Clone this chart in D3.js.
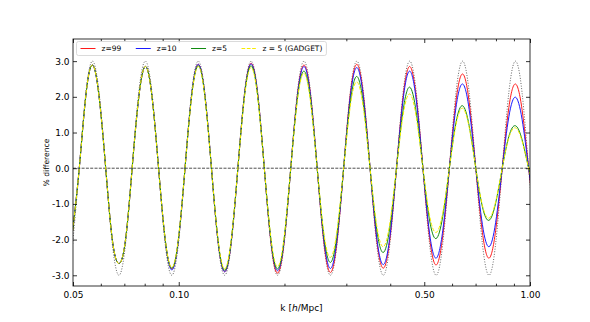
<!DOCTYPE html>
<html><head><meta charset="utf-8">
<script src="https://cdn.jsdelivr.net/npm/d3@7"></script>
<style>
body{margin:0;background:#fff;}
svg{display:block;font-family:"DejaVu Sans",sans-serif;}
</style>
</head><body>
<svg id="c" width="590" height="322"></svg>
<script>
// ---- data ----
const kGrid = [0.04989,
 0.05210,0.05441,0.05682,0.05933,0.06196,0.06470,0.06757,0.07056,
 0.07368,0.07694,0.08035,0.08391,0.08762,0.09150,0.09555,0.09978,
 0.1042,0.10881,0.11364,0.11866,0.12392,0.12940,0.13513,0.14111,
 0.14736,0.15389,0.16070,0.16781,0.17524,0.18300,0.19110,0.19956,
 0.2084,0.21763,0.22726,0.23732,0.24783,0.25880,0.27026,0.28223,
 0.29472,0.30777,0.32140,0.33563,0.35049,0.36600,0.38221,0.39913,
 0.4168,0.43525,0.45452,0.47465,0.49566,0.51761,0.54052,0.56445,
 0.58944,0.61554,0.64279,0.67125,0.70097,0.73201,0.76441,0.79826,
 0.8336,0.87051,0.90905,0.94930,0.99132,1.03521];

const linearTheory = [-2.12,
 0,2.12,3,2.12,0,-2.12,-3,-2.12,
 0,2.12,3,2.12,0,-2.12,-3,-2.12,
 0,2.12,3,2.12,0,-2.12,-3,-2.12,
 0,2.12,3,2.12,0,-2.12,-3,-2.12,
 0,2.12,3,2.12,0,-2.12,-3,-2.12,
 0,2.12,3,2.12,0,-2.12,-3,-2.12,
 0,2.12,3,2.12,0,-2.12,-3,-2.12,
 0,2.12,3,2.12,0,-2.12,-3,-2.12,
 0,2.12,3,2.12,0,-2.12];

const z99 = [-1.75,
 0,2.05,2.89,2.00,0,-2.0,-2.67,-2.0,
 0,1.98,2.85,2.01,0,-2.00,-2.82,-2.01,
 0,2.04,2.91,2.06,0,-2.05,-2.90,-2.06,
 0,2.07,2.94,2.08,0,-2.08,-2.94,-2.07,
 0,2.05,2.89,2.05,0,-2.06,-2.92,-2.06,
 0,2.06,2.91,2.04,0,-2.00,-2.80,-1.99,
 0,2.01,2.85,1.99,0,-1.94,-2.71,-1.90,
 0,1.88,2.64,1.85,0,-1.80,-2.52,-1.75,
 0,1.70,2.36,1.64,0,-1.58];

const z10 = [-1.75,
 0,2.05,2.89,2.00,0,-2.0,-2.67,-2.0,
 0,1.98,2.85,2.01,0,-2.01,-2.85,-2.03,
 0,2.05,2.91,2.06,0,-2.05,-2.90,-2.05,
 0,2.06,2.92,2.06,0,-2.04,-2.87,-2.03,
 0,2.02,2.85,2.01,0,-1.99,-2.81,-1.99,
 0,1.99,2.82,1.97,0,-1.93,-2.70,-1.91,
 0,1.92,2.72,1.89,0,-1.82,-2.52,-1.75,
 0,1.70,2.36,1.64,0,-1.58,-2.20,-1.52,
 0,1.44,1.99,1.37,0,-1.31];

const z5 = [-1.75,
 0,2.05,2.89,2.00,0,-2.0,-2.67,-2.0,
 0,1.98,2.85,2.01,0,-1.99,-2.80,-1.99,
 0,2.02,2.87,2.03,0,-2.02,-2.86,-2.02,
 0,2.03,2.87,2.02,0,-2.00,-2.82,-1.98,
 0,1.94,2.72,1.91,0,-1.88,-2.64,-1.85,
 0,1.83,2.57,1.78,0,-1.71,-2.36,-1.65,
 0,1.62,2.27,1.55,0,-1.45,-1.97,-1.35,
 0,1.28,1.75,1.19,0,-1.08,-1.46,-0.98,
 0,0.89,1.19,0.80,0,-0.71];

const z5gadget = [-1.75,
 0,2.05,2.89,2.00,0,-2.0,-2.67,-2.0,
 0,1.98,2.85,2.00,0,-1.98,-2.78,-1.98,
 0,2.00,2.85,2.01,0,-2.00,-2.82,-1.99,
 0,1.99,2.82,1.98,0,-1.96,-2.76,-1.93,
 0,1.90,2.66,1.85,0,-1.80,-2.50,-1.75,
 0,1.73,2.42,1.67,0,-1.59,-2.20,-1.53,
 0,1.49,2.08,1.42,0,-1.32,-1.80,-1.25,
 0,1.21,1.68,1.14,0,-1.04,-1.40,-0.94,
 0,0.85,1.13,0.76,0,-0.68];

const seriesNames = ["z=99","z=10","z=5","z = 5 (GADGET)"];
const xTicks = [0.05,0.1,0.5,1.0];
const xTickLabels = ["0.05","0.10","0.50","1.00"];
const xMinorTicks = [0.06,0.07,0.08,0.09,0.2,0.3,0.4,0.6,0.7,0.8,0.9];
const yTicks = [-3,-2,-1,0,1,2,3];
const yTickLabels = ["-3.0","-2.0","-1.0","0.0","1.0","2.0","3.0"];

// ---- chart ----
const L=73, R=530, T=39, B=286;
const svg = d3.select("#c");
const x = d3.scaleLog().domain([0.05,1.0]).range([L,R]);
const y = d3.scaleLinear().domain([-3.3,3.62]).range([B,T]);

svg.append("defs").append("clipPath").attr("id","clip")
  .append("rect").attr("x",L).attr("y",T).attr("width",R-L).attr("height",B-T);

const plot = svg.append("g").attr("clip-path","url(#clip)");

// zero line
plot.append("path")
  .attr("d", d3.line()([[x(0.05),y(0)],[x(1.0),y(0)]]))
  .attr("stroke","#222").attr("stroke-width",0.8).attr("stroke-dasharray","3,1.3").attr("fill","none");

const mkLine = d3.line().x((d,i)=>x(kGrid[i])).y(d=>y(d)).curve(d3.curveNatural);

const styles = [
  {data: linearTheory, color:"#666666", w:1.0, dash:"1,1.6"},
  {data: z99, color:"#ff1a1a", w:1.0, dash:null},
  {data: z10, color:"#1a1aff", w:1.0, dash:null},
  {data: z5, color:"#108a10", w:1.0, dash:null},
  {data: z5gadget, color:"#f7ec00", w:1.0, dash:"3.7,1.6"}
];
styles.forEach(s=>{
  plot.append("path").attr("d", mkLine(s.data))
    .attr("fill","none").attr("stroke",s.color).attr("stroke-width",s.w)
    .attr("stroke-dasharray", s.dash).attr("stroke-linejoin","round");
});

// axes
function styleAxis(g){
  g.select(".domain").remove();
  g.selectAll("line").attr("stroke","#000").attr("stroke-width",0.8);
  g.selectAll("text").attr("font-family","DejaVu Sans").attr("font-size",9).attr("fill","#000");
}
svg.append("g").attr("transform",`translate(0,${B})`)
  .call(d3.axisBottom(x).tickValues(xTicks).tickFormat((d,i)=>xTickLabels[i]).tickSizeInner(-4).tickSizeOuter(0).tickPadding(6))
  .call(styleAxis);
svg.append("g").attr("transform",`translate(0,${B})`)
  .call(d3.axisBottom(x).tickValues(xMinorTicks).tickFormat(()=>"").tickSizeInner(-2.3).tickSizeOuter(0))
  .call(styleAxis);
svg.append("g").attr("transform",`translate(0,${T})`)
  .call(d3.axisTop(x).tickValues(xTicks).tickFormat(()=>"").tickSizeInner(-4).tickSizeOuter(0))
  .call(styleAxis);
svg.append("g").attr("transform",`translate(0,${T})`)
  .call(d3.axisTop(x).tickValues(xMinorTicks).tickFormat(()=>"").tickSizeInner(-2.3).tickSizeOuter(0))
  .call(styleAxis);
svg.append("g").attr("transform",`translate(${L},0)`)
  .call(d3.axisLeft(y).tickValues(yTicks).tickFormat((d,i)=>yTickLabels[i]).tickSizeInner(-4).tickSizeOuter(0).tickPadding(3.5))
  .call(styleAxis);
svg.append("g").attr("transform",`translate(${R},0)`)
  .call(d3.axisRight(y).tickValues(yTicks).tickFormat(()=>"").tickSizeInner(-4).tickSizeOuter(0))
  .call(styleAxis);

// frame
svg.append("rect").attr("x",L).attr("y",T).attr("width",R-L).attr("height",B-T)
  .attr("fill","none").attr("stroke","#000").attr("stroke-width",0.8);

// axis labels
svg.append("text").attr("x",(L+R)/2).attr("y",311).attr("text-anchor","middle")
  .attr("font-size",9).attr("fill","#000")
  .call(t=>{ t.append("tspan").text("k ["); t.append("tspan").attr("font-style","italic").text("h"); t.append("tspan").text("/Mpc]"); });
svg.append("text").attr("transform",`translate(46.5,${(T+B)/2}) rotate(-90)`)
  .attr("text-anchor","middle").attr("dominant-baseline","central")
  .attr("font-size",7.6).attr("fill","#000").text("% difference");

// legend
const lg = svg.append("g");
const lgX = 76.5, lgY = 41.5, lgH = 14, pad = 4, hl = 15, hp = 6, cs = 14.5;
const box = lg.append("rect").attr("x",lgX).attr("y",lgY).attr("height",lgH).attr("rx",2)
  .attr("fill","#fff").attr("fill-opacity",0.85).attr("stroke","#d0d0d0").attr("stroke-width",0.8);
let cx = lgX + pad;
const cy = lgY + lgH/2;
styles.slice(1).forEach((s,i)=>{
  lg.append("line").attr("x1",cx).attr("x2",cx+hl).attr("y1",cy).attr("y2",cy)
    .attr("stroke",s.color).attr("stroke-width",s.w).attr("stroke-dasharray",s.dash);
  cx += hl + hp;
  const t = lg.append("text").attr("x",cx).attr("y",cy).attr("dominant-baseline","central")
    .attr("font-size",7.5).attr("fill","#000").text(seriesNames[i]);
  cx += t.node().getComputedTextLength();
  if (i < 3) cx += cs;
});
box.attr("width", cx + pad - lgX);
</script>
</body></html>
